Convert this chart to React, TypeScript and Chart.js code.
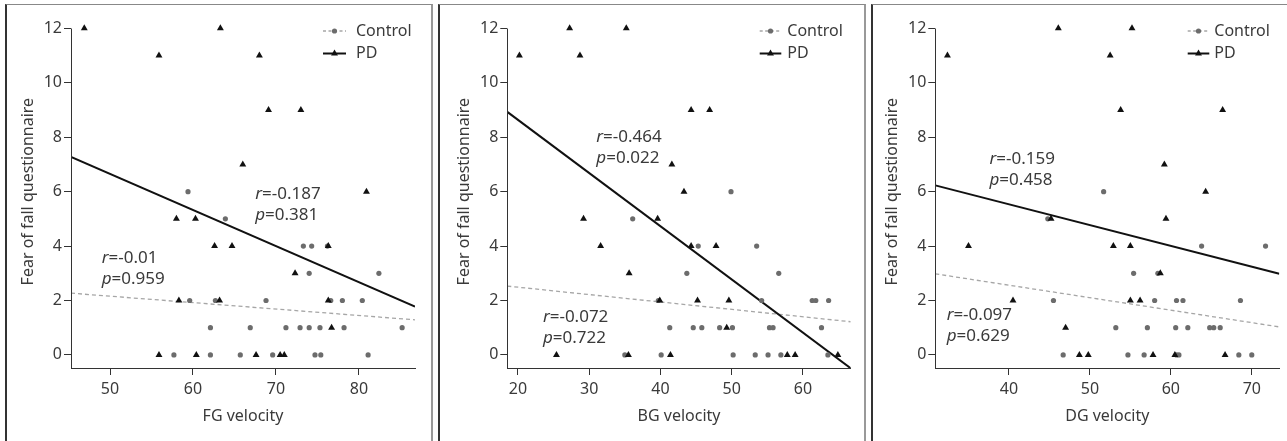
import React, { useEffect, useRef } from "react";
import { Chart, registerables } from "chart.js";

Chart.register(...registerables);

const FONT = "'Noto Sans', 'DejaVu Sans', sans-serif";
const TEXT = "#3a3a3a";
const AXIS = "#333333";
const PD_COLOR = "#111111";
const CTRL_COLOR = "#6c6c6c";
const CTRL_LINE = "#a6a6a6";

// ---------- shared axis ----------
const yTicks = [0, 2, 4, 6, 8, 10, 12];
const yRange = [-0.48, 12.48];
const yTitle = "Fear of fall questionnaire";

// ---------- FG panel ----------
const fgTicks = [50, 60, 70, 80];
const fgRange = [45.3, 86.75];
const fgPdX = [46.9, 55.9, 63.3, 68.0, 69.1, 73.0, 66.0, 80.9, 58.0, 60.3, 62.6, 64.7, 76.3, 72.3, 58.3, 63.2, 76.3, 76.7, 55.9, 60.4, 67.6, 70.5, 71.0];
const fgPdY = [12, 11, 12, 11, 9, 9, 7, 6, 5, 5, 4, 4, 4, 3, 2, 2, 2, 1, 0, 0, 0, 0, 0];
const fgCtrlX = [59.4, 63.9, 73.3, 74.3, 76.2, 74.0, 82.4, 59.6, 62.7, 68.8, 76.6, 78.0, 80.4, 62.1, 66.9, 71.2, 72.9, 74.0, 75.3, 78.2, 85.2, 57.7, 62.1, 65.7, 69.6, 74.7, 75.4, 81.1];
const fgCtrlY = [6, 5, 4, 4, 4, 3, 3, 2, 2, 2, 2, 2, 2, 1, 1, 1, 1, 1, 1, 1, 1, 0, 0, 0, 0, 0, 0, 0];
const fgPdFitY = [7.28, 1.78];
const fgCtrlFitY = [2.27, 1.29];
const fgR = ["-0.187", "-0.01"];
const fgP = ["0.381", "0.959"];

// ---------- BG panel ----------
const bgTicks = [20, 30, 40, 50, 60];
const bgRange = [18.5, 66.7];
const bgPdX = [20.2, 27.25, 35.2, 28.7, 44.3, 46.9, 41.6, 43.3, 29.2, 39.6, 31.6, 44.3, 47.8, 35.6, 39.9, 45.2, 49.6, 49.3, 25.4, 35.5, 41.4, 57.8, 58.9, 64.9];
const bgPdY = [11, 12, 12, 11, 9, 9, 7, 6, 5, 5, 4, 4, 4, 3, 2, 2, 2, 1, 0, 0, 0, 0, 0, 0];
const bgCtrlX = [49.9, 36.1, 45.3, 53.5, 43.7, 56.6, 39.7, 54.2, 61.3, 61.8, 63.6, 41.3, 44.6, 45.8, 48.3, 50.1, 55.3, 55.8, 62.6, 35.0, 40.1, 50.2, 53.3, 55.1, 56.9, 63.5];
const bgCtrlY = [6, 5, 4, 4, 3, 3, 2, 2, 2, 2, 2, 1, 1, 1, 1, 1, 1, 1, 1, 0, 0, 0, 0, 0, 0, 0];
const bgPdFitY = [8.93, -0.49];
const bgCtrlFitY = [2.53, 1.22];
const bgR = ["-0.464", "-0.072"];
const bgP = ["0.022", "0.722"];

// ---------- DG panel ----------
const dgTicks = [40, 50, 60, 70];
const dgRange = [30.9, 73.4];
const dgPdX = [32.4, 46.1, 55.2, 52.5, 53.8, 66.4, 59.2, 64.3, 45.2, 59.4, 35.0, 52.9, 55.0, 58.7, 40.5, 55.0, 56.2, 47.0, 48.7, 49.8, 57.8, 60.5, 66.7];
const dgPdY = [11, 12, 12, 11, 9, 9, 7, 6, 5, 5, 4, 4, 4, 3, 2, 2, 2, 1, 0, 0, 0, 0, 0];
const dgCtrlX = [51.7, 44.8, 63.8, 71.7, 55.4, 58.4, 45.5, 58.0, 60.7, 61.5, 68.6, 53.2, 57.1, 60.6, 62.1, 64.8, 65.3, 66.1, 46.7, 54.7, 56.7, 60.7, 61.0, 68.4, 70.0];
const dgCtrlY = [6, 5, 4, 4, 3, 3, 2, 2, 2, 2, 2, 1, 1, 1, 1, 1, 1, 1, 0, 0, 0, 0, 0, 0, 0];
const dgPdFitY = [6.23, 2.98];
const dgCtrlFitY = [2.98, 1.03];
const dgR = ["-0.159", "-0.097"];
const dgP = ["0.458", "0.629"];

const legendLabels = ["Control", "PD"];

type Panel = {
  key: string;
  title: string;
  ticks: number[];
  range: number[];
  pdX: number[];
  pdY: number[];
  ctrlX: number[];
  ctrlY: number[];
  pdFitY: number[];
  ctrlFitY: number[];
  r: string[];
  p: string[];
  // layout (positions only)
  canvasLeft: number;
  canvasWidth: number;
  axisLeft: number;
  padRight: number;
  legend: number[]; // sample start, sample end, text start (canvas px)
  notes: number[][]; // anchors in data space [x, y] for PD text, Control text
};

const panels: Panel[] = [
  {
    key: "fg", title: "FG velocity", ticks: fgTicks, range: fgRange,
    pdX: fgPdX, pdY: fgPdY, ctrlX: fgCtrlX, ctrlY: fgCtrlY,
    pdFitY: fgPdFitY, ctrlFitY: fgCtrlFitY, r: fgR, p: fgP,
    canvasLeft: 0, canvasWidth: 432, axisLeft: 71, padRight: 17,
    legend: [323, 346, 356],
    notes: [[67.5, 5.89], [49.0, 3.56]],
  },
  {
    key: "bg", title: "BG velocity", ticks: bgTicks, range: bgRange,
    pdX: bgPdX, pdY: bgPdY, ctrlX: bgCtrlX, ctrlY: bgCtrlY,
    pdFitY: bgPdFitY, ctrlFitY: bgCtrlFitY, r: bgR, p: bgP,
    canvasLeft: 432, canvasWidth: 433, axisLeft: 75.3, padRight: 14.3,
    legend: [327.7, 349.3, 355.3],
    notes: [[31.0, 8.01], [23.5, 1.38]],
  },
  {
    key: "dg", title: "DG velocity", ticks: dgTicks, range: dgRange,
    pdX: dgPdX, pdY: dgPdY, ctrlX: dgCtrlX, ctrlY: dgCtrlY,
    pdFitY: dgPdFitY, ctrlFitY: dgCtrlFitY, r: dgR, p: dgP,
    canvasLeft: 865, canvasWidth: 422, axisLeft: 70.3, padRight: 7.7,
    legend: [322.7, 344.3, 349.3],
    notes: [[37.6, 7.21], [32.3, 1.45]],
  },
];

const H = 441;
const TOP_PAD = 15.3;
const X_AXIS_H = 73;

function zip(xs: number[], ys: number[]) {
  return xs.map((x, i) => ({ x, y: ys[i] }));
}

function drawTriangle(ctx: CanvasRenderingContext2D, x: number, y: number, r: number) {
  ctx.beginPath();
  ctx.moveTo(x, y - r);
  ctx.lineTo(x + r * Math.sin((2 * Math.PI) / 3), y - r * Math.cos((2 * Math.PI) / 3));
  ctx.lineTo(x + r * Math.sin((4 * Math.PI) / 3), y - r * Math.cos((4 * Math.PI) / 3));
  ctx.closePath();
  ctx.fill();
}

function makeDeco(p: Panel) {
  return {
    id: "deco_" + p.key,
    afterDraw(chart: any) {
      const ctx: CanvasRenderingContext2D = chart.ctx;
      const { left, bottom } = chart.chartArea;
      const xs = chart.scales.x;
      const ys = chart.scales.y;
      ctx.save();
      // y axis line (from top tick down to the x axis)
      ctx.strokeStyle = AXIS;
      ctx.lineWidth = 1;
      const lx = Math.round(left) + 0.5;
      ctx.beginPath();
      ctx.moveTo(lx, Math.round(ys.getPixelForValue(yTicks[yTicks.length - 1])) + 0.5);
      ctx.lineTo(lx, Math.round(bottom) + 0.5);
      ctx.stroke();

      // legend
      const [s0, s1, tx] = p.legend;
      const rowY = [31, 53.5];
      const mid = (s0 + s1) / 2;
      // Control row
      ctx.strokeStyle = CTRL_LINE;
      ctx.lineWidth = 1.3;
      ctx.setLineDash([3, 2.5]);
      ctx.beginPath();
      ctx.moveTo(s0, rowY[0]);
      ctx.lineTo(s1, rowY[0]);
      ctx.stroke();
      ctx.setLineDash([]);
      ctx.fillStyle = CTRL_COLOR;
      ctx.beginPath();
      ctx.arc(mid, rowY[0], 2.6, 0, Math.PI * 2);
      ctx.fill();
      // PD row
      ctx.strokeStyle = PD_COLOR;
      ctx.lineWidth = 2;
      ctx.beginPath();
      ctx.moveTo(s0, rowY[1]);
      ctx.lineTo(s1, rowY[1]);
      ctx.stroke();
      ctx.fillStyle = PD_COLOR;
      drawTriangle(ctx, mid, rowY[1], 4);
      ctx.fillStyle = TEXT;
      ctx.font = `16px ${FONT}`;
      ctx.textBaseline = "middle";
      ctx.textAlign = "left";
      ctx.fillText(legendLabels[0], tx, rowY[0]);
      ctx.fillText(legendLabels[1], tx, rowY[1]);

      // statistics annotations
      p.notes.forEach((anchor, i) => {
        const ax = xs.getPixelForValue(anchor[0]);
        const ay = ys.getPixelForValue(anchor[1]);
        const lines = [["r", "=" + p.r[i]], ["p", "=" + p.p[i]]];
        lines.forEach((ln, j) => {
          const yy = ay + j * 21;
          ctx.font = `italic 17px ${FONT}`;
          ctx.fillText(ln[0], ax, yy);
          const w = ctx.measureText(ln[0]).width;
          ctx.font = `17px ${FONT}`;
          ctx.fillText(ln[1], ax + w, yy);
        });
      });
      ctx.restore();
    },
  };
}

function PanelChart({ p }: { p: Panel }) {
  const ref = useRef<HTMLCanvasElement | null>(null);
  useEffect(() => {
    if (!ref.current) return;
    const lineX = [p.range[0], p.range[1]];
    const yTitlePad = p.axisLeft - 42.5 - 9.6;
    const chart = new Chart(ref.current, {
      type: "scatter",
      data: {
        datasets: [
          {
            label: "PD",
            data: zip(p.pdX, p.pdY),
            pointStyle: "triangle",
            pointRadius: 4,
            backgroundColor: PD_COLOR,
            borderColor: PD_COLOR,
            borderWidth: 0,
            clip: false,
          } as any,
          {
            label: "Control",
            data: zip(p.ctrlX, p.ctrlY),
            pointStyle: "circle",
            pointRadius: 2.6,
            backgroundColor: CTRL_COLOR,
            borderColor: CTRL_COLOR,
            borderWidth: 0,
            clip: false,
          } as any,
          {
            label: "PD fit",
            data: zip(lineX, p.pdFitY),
            showLine: true,
            pointRadius: 0,
            borderColor: PD_COLOR,
            borderWidth: 2,
          } as any,
          {
            label: "Control fit",
            data: zip(lineX, p.ctrlFitY),
            showLine: true,
            pointRadius: 0,
            borderColor: CTRL_LINE,
            borderWidth: 1.3,
            borderDash: [4, 3],
          } as any,
        ],
      },
      options: {
        responsive: false,
        animation: false,
        events: [],
        layout: { padding: { left: 0, right: p.padRight, top: TOP_PAD, bottom: 0 } },
        plugins: {
          legend: { display: false },
          tooltip: { enabled: false },
        },
        scales: {
          x: {
            type: "linear",
            min: p.range[0],
            max: p.range[1],
            afterBuildTicks: (s: any) => {
              s.ticks = p.ticks.map((v) => ({ value: v }));
            },
            afterFit: (s: any) => {
              s.height = X_AXIS_H;
            },
            border: { display: true, color: AXIS, width: 1 },
            grid: { display: true, drawOnChartArea: false, drawTicks: true, tickLength: 7, color: AXIS },
            ticks: {
              color: TEXT,
              font: { family: FONT, size: 16 },
              padding: 5,
              maxRotation: 0,
              autoSkip: false,
            },
            title: {
              display: true,
              text: p.title,
              color: TEXT,
              font: { family: FONT, size: 16 },
              padding: { top: 0, bottom: 15.4 },
            },
          },
          y: {
            type: "linear",
            min: yRange[0],
            max: yRange[1],
            afterBuildTicks: (s: any) => {
              s.ticks = yTicks.map((v) => ({ value: v }));
            },
            afterFit: (s: any) => {
              s.width = p.axisLeft;
            },
            border: { display: false },
            grid: { display: true, drawOnChartArea: false, drawTicks: true, tickLength: 7, color: AXIS },
            ticks: {
              color: TEXT,
              font: { family: FONT, size: 16 },
              padding: 2,
              autoSkip: false,
            },
            title: {
              display: true,
              text: yTitle,
              color: TEXT,
              font: { family: FONT, size: 16 },
              padding: { top: yTitlePad, bottom: 0 },
            },
          },
        },
      } as any,
      plugins: [makeDeco(p)],
    });
    return () => chart.destroy();
  }, [p]);
  return (
    <canvas
      ref={ref}
      width={p.canvasWidth}
      height={H}
      style={{ position: "absolute", left: p.canvasLeft, top: 0, width: p.canvasWidth, height: H }}
    />
  );
}

const frames = [
  { left: 5, width: 428 },
  { left: 438, width: 428 },
  { left: 871, width: 430 },
];

export default function App() {
  return (
    <div
      style={{
        position: "absolute",
        left: 0,
        top: 0,
        width: 1287,
        height: H,
        overflow: "hidden",
        background: "#ffffff",
      }}
    >
      {frames.map((f, i) => (
        <div
          key={i}
          style={{
            position: "absolute",
            left: f.left,
            top: 4,
            width: f.width,
            height: H + 20,
            boxSizing: "border-box",
            borderLeft: "2px solid #333",
            borderTop: "1px solid #888",
            borderRight: "2px solid #999",
          }}
        />
      ))}
      {panels.map((p) => (
        <PanelChart key={p.key} p={p} />
      ))}
    </div>
  );
}
